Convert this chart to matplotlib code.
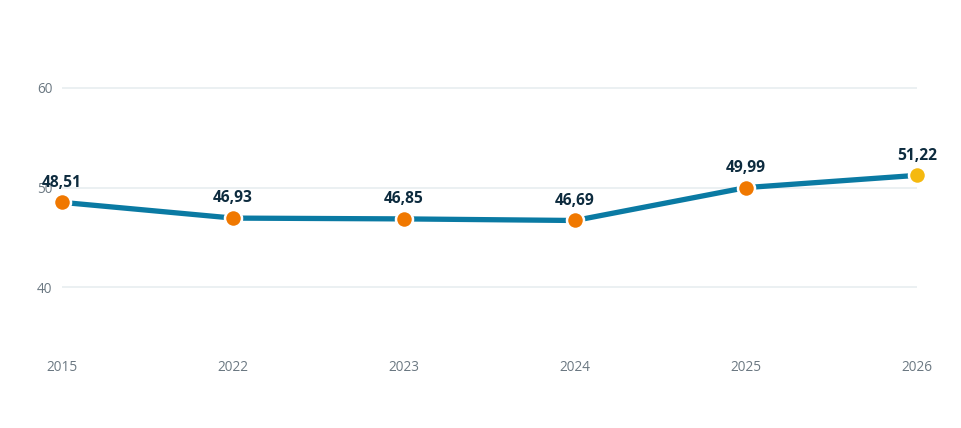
import matplotlib
matplotlib.use("Agg")
import matplotlib.pyplot as plt

years = ["2015", "2022", "2023", "2024", "2025", "2026"]
values = [48.51, 46.93, 46.85, 46.69, 49.99, 51.22]
labels = ["48,51", "46,93", "46,85", "46,69", "49,99", "51,22"]
marker_colors = ["#f07800", "#f07800", "#f07800", "#f07800", "#f07800", "#f5b90f"]
yticks = [40, 50, 60]

plt.rcParams['font.family'] = ['Open Sans', 'DejaVu Sans']

fig = plt.figure(figsize=(9.62, 4.28), dpi=100)
ax = fig.add_axes([62/962, (428-337)/428, (917-62)/962, (337-38)/428])
x = list(range(len(years)))
ax.plot(x, values, color="#0a7aa3", lw=3.8, zorder=2, solid_capstyle="butt", clip_on=False)
for xi, v, c in zip(x, values, marker_colors):
    ax.scatter([xi], [v], s=150, color=c, edgecolor="white", linewidth=1.8, zorder=3, clip_on=False)
for xi, v, t in zip(x, values, labels):
    ax.annotate(t, (xi, v), xytext=(0, 8.5), textcoords="offset points", ha="center", va="bottom",
                fontsize=11.2, fontweight="bold", color="#0d2b3e", zorder=4)

ax.set_xlim(0, len(years) - 1)
ax.set_ylim(35, 65)
ax.set_yticks(yticks)
ax.set_yticklabels([str(t) for t in yticks])
ax.set_xticks(x)
ax.set_xticklabels(years)
ax.grid(axis="y", color="#e8edf0", lw=1.2)
ax.set_axisbelow(True)
for s in ax.spines.values():
    s.set_visible(False)
ax.tick_params(axis="both", length=0, labelsize=9.8, labelcolor="#6b7882")
ax.tick_params(axis="x", pad=16.5)
ax.tick_params(axis="y", pad=7)
fig.savefig("out.png", dpi=100, facecolor="white")
